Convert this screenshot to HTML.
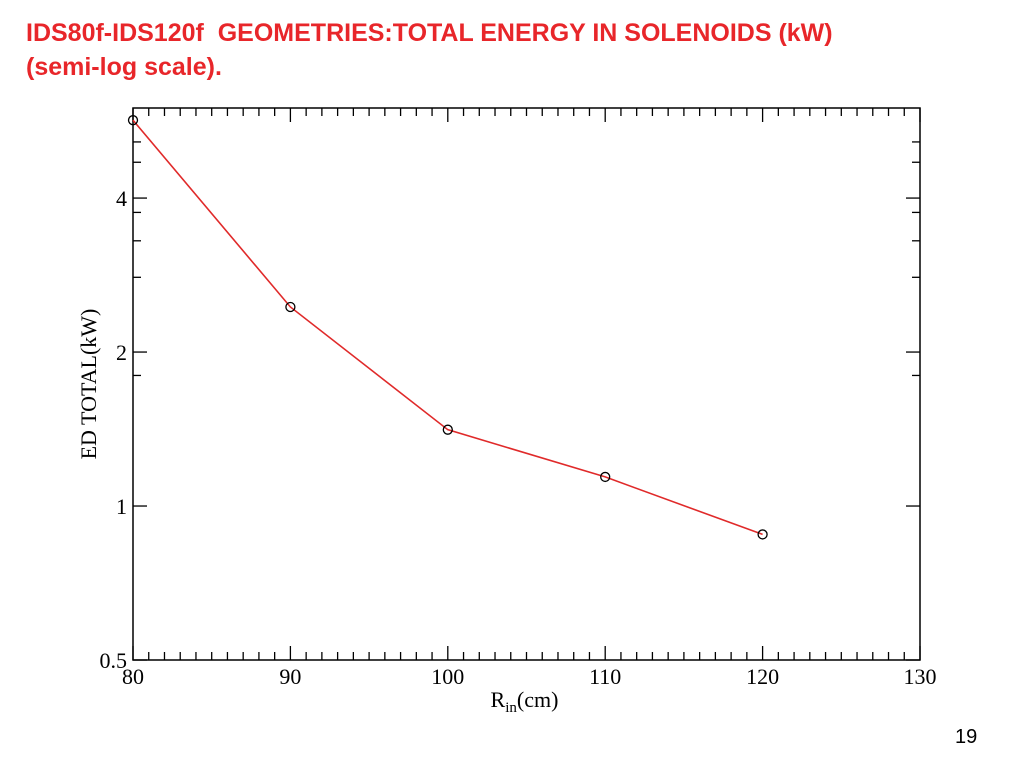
<!DOCTYPE html>
<html><head><meta charset="utf-8"><style>
body{margin:0;background:#fff;width:1023px;height:767px;overflow:hidden;position:relative;font-family:"Liberation Sans",sans-serif}
.title{position:absolute;left:26px;top:16px;color:#e8262a;font-weight:bold;font-size:25px;line-height:34px}
.pg{position:absolute;left:955px;top:726px;font-size:20px}
svg{position:absolute;left:0;top:0}
</style></head><body>
<div class="title">IDS80f-IDS120f&nbsp; GEOMETRIES:TOTAL ENERGY IN SOLENOIDS (kW)<br>(semi-log scale).</div>
<div class="pg">19</div>
<svg width="1023" height="767" id="c"></svg>
<script>
const xVals=[80,90,100,110,120];
const yVals=[5.68,2.45,1.41,1.14,0.88];
const xTicks=[80,90,100,110,120,130];
const yTicks=[0.5,1,2,4];
const yTickLabels=["0.5","1","2","4"];
const yMinor=[1.8,2.8,3.3,3.75,4.7,5.15];
const L=133,R=920,T=108,B=660,xmin=80,xmax=130,ymin=0.5,ymax=6.0;
const X=v=>L+(v-xmin)/(xmax-xmin)*(R-L);
const Y=v=>B-(Math.log(v)-Math.log(ymin))/(Math.log(ymax)-Math.log(ymin))*(B-T);
const svg=document.getElementById('c');const NS='http://www.w3.org/2000/svg';
function mk(t,a){const e=document.createElementNS(NS,t);for(const k in a)e.setAttribute(k,a[k]);svg.appendChild(e);return e;}
let e=mk('rect',{x:L,y:T,width:R-L,height:B-T,fill:'none',stroke:'#000','stroke-width':1.5});


const F='"Liberation Serif",serif';
for(let v=xmin;v<=xmax;v++){const maj=xTicks.includes(v);const len=maj?14:8;const x=X(v);
 mk('line',{x1:x,x2:x,y1:B,y2:B-len,stroke:'#000','stroke-width':1.3});
 mk('line',{x1:x,x2:x,y1:T,y2:T+len,stroke:'#000','stroke-width':1.3});}
xTicks.forEach(v=>{const t=mk('text',{x:X(v),y:B+24,'font-size':22,'font-family':F,'text-anchor':'middle'});t.textContent=v;
 
 });
yTicks.forEach((v,i)=>{const y=Y(v);
 mk('line',{x1:L,x2:L+14,y1:y,y2:y,stroke:'#000','stroke-width':1.3});
 mk('line',{x1:R,x2:R-14,y1:y,y2:y,stroke:'#000','stroke-width':1.3});
 const t=mk('text',{x:L-6,y:y+8,'font-size':22,'font-family':F,'text-anchor':'end'});t.textContent=yTickLabels[i];
 
 });
yMinor.forEach(v=>{const y=Y(v);
 mk('line',{x1:L,x2:L+8,y1:y,y2:y,stroke:'#000','stroke-width':1.3});
 mk('line',{x1:R,x2:R-8,y1:y,y2:y,stroke:'#000','stroke-width':1.3});});
e=mk('path',{d:xVals.map((v,i)=>(i?'L':'M')+X(v)+','+Y(yVals[i])).join(''),fill:'none',stroke:'#e02a2a','stroke-width':1.6});


xVals.forEach((v,i)=>{const c=mk('circle',{cx:X(v),cy:Y(yVals[i]),r:4.5,fill:'none',stroke:'#000','stroke-width':1.3});
 
 });
let t=mk('text',{x:(L+R)/2-2,y:707,'font-size':22,'font-family':F,'text-anchor':'middle'});
t.innerHTML='R<tspan font-size="15" dy="5">in</tspan><tspan dy="-5">(cm)</tspan>';


t=mk('text',{x:0,y:0,'font-size':22,'font-family':F,'text-anchor':'middle',transform:'translate(96,384) rotate(-90)'});
t.textContent='ED TOTAL(kW)';


</script>
</body></html>
